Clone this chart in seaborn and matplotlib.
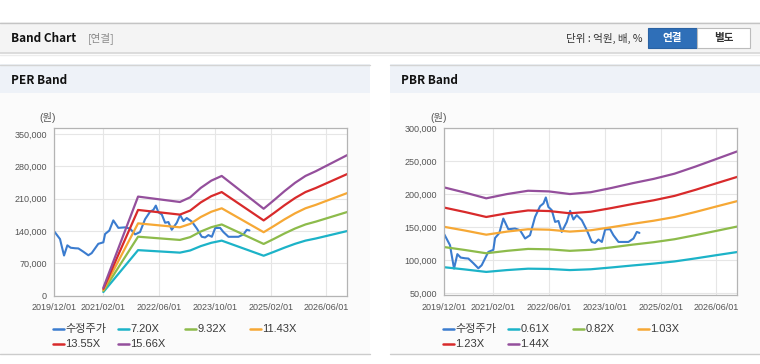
import pandas as pd
import seaborn as sns
import matplotlib.pyplot as plt
import matplotlib.dates as mdates
from matplotlib.patches import Rectangle
from matplotlib.lines import Line2D
from matplotlib.ticker import FuncFormatter

# ---- data ----
price_dates = ['2019-12-01', '2020-01-20', '2020-01-30', '2020-02-24', '2020-03-24',
               '2020-04-22', '2020-05-30', '2020-06-28', '2020-08-10', '2020-09-23',
               '2020-10-22', '2020-12-19', '2021-02-01', '2021-02-16', '2021-03-25',
               '2021-04-29', '2021-06-12', '2021-08-09', '2021-09-22', '2021-11-05',
               '2021-12-18', '2022-01-31', '2022-03-16', '2022-04-14', '2022-05-05',
               '2022-05-27', '2022-06-26', '2022-07-25', '2022-08-23', '2022-09-21',
               '2022-11-04', '2022-12-03', '2023-01-01', '2023-01-30', '2023-03-15',
               '2023-04-28', '2023-06-10', '2023-07-09', '2023-08-07', '2023-09-06',
               '2023-10-05', '2023-11-17', '2023-12-16', '2024-01-29', '2024-04-25',
               '2024-06-08', '2024-07-07', '2024-07-30']
price_values = [139000, 122500, 112000, 87000, 109000,
                103800, 102700, 102300, 95300, 87500,
                92100, 112300, 115500, 133500, 141000,
                163000, 146800, 147900, 145300, 132700,
                137700, 165500, 181800, 185900, 195000,
                180700, 175700, 157900, 159400, 142700,
                157900, 174600, 161600, 168100, 160500,
                145300, 127500, 126000, 131200, 127500,
                146400, 146800, 137700, 127500, 127500,
                132700, 142700, 141200]

per_dates = ['2021-02-01', '2021-12-01', '2022-12-01', '2023-03-01', '2023-06-01',
             '2023-09-01', '2023-12-01', '2024-12-01', '2025-03-01', '2025-06-01',
             '2025-09-01', '2025-12-01', '2026-03-01', '2026-06-01', '2026-12-01']
per_labels = ['7.20X', '9.32X', '11.43X', '13.55X', '15.66X']
per_720 = [7900, 98600, 93200, 97900, 107300, 114500, 119200, 86500, 95000, 104000,
           112300, 119200, 123800, 129200, 140000]
per_932 = [10300, 127700, 120700, 126800, 138900, 148200, 154200, 112000, 123000, 134700,
           145400, 154200, 160300, 167300, 181200]
per_1143 = [12600, 156600, 148000, 155400, 170300, 181700, 189200, 137400, 150900, 165200,
            178300, 189200, 196600, 205200, 222200]
per_1355 = [14900, 185600, 175500, 184300, 201900, 215400, 224300, 162900, 178900, 195800,
            211400, 224300, 233100, 243200, 263400]
per_1566 = [17200, 214500, 202800, 213000, 233300, 249000, 259200, 188200, 206700, 226300,
            244300, 259200, 269400, 281100, 304400]

pbr_dates = ['2019-12-01', '2020-06-01', '2020-12-01', '2021-06-01', '2021-12-01',
             '2022-06-01', '2022-12-01', '2023-06-01', '2023-12-01', '2024-06-01',
             '2024-12-01', '2025-06-01', '2025-12-01', '2026-06-01', '2026-12-01']
pbr_labels = ['0.61X', '0.82X', '1.03X', '1.23X', '1.44X']
pbr_061 = [89100, 85700, 82000, 84800, 86900, 86500, 84800, 86000, 88800, 91800,
           94600, 97900, 102500, 107400, 112200]
pbr_082 = [119700, 115200, 110300, 114000, 116900, 116300, 114000, 115600, 119300, 123400,
           127100, 131600, 137800, 144300, 150900]
pbr_103 = [150400, 144700, 138500, 143200, 146800, 146100, 143200, 145200, 149900, 155000,
           159700, 165300, 173000, 181300, 189500]
pbr_123 = [179600, 172800, 165400, 171000, 175300, 174400, 171000, 173400, 179000, 185100,
           190700, 197400, 206600, 216500, 226300]
pbr_144 = [210200, 202300, 193700, 200200, 205200, 204200, 200200, 203000, 209500, 216700,
           223200, 231100, 241900, 253400, 265000]

x_ticks = ['2019-12-01', '2021-02-01', '2022-06-01', '2023-10-01', '2025-02-01', '2026-06-01']
per_yticks = [0, 70000, 140000, 210000, 280000, 350000]
pbr_yticks = [50000, 100000, 150000, 200000, 250000, 300000]

price_label = '수정주가'
colors = ['#3b7ccf', '#1cb3c8', '#8dbb4b', '#f6a835', '#d82a2b', '#944f9c']

W, H = 760, 364


def fx(x):
    return x / W


def fy(y):
    return 1 - y / H


def box(fig, x0, y0, x1, y1, color, z=0):
    fig.add_artist(Rectangle((fx(x0), fy(y1)), (x1 - x0) / W, (y1 - y0) / H,
                             transform=fig.transFigure, facecolor=color,
                             edgecolor='none', zorder=z))


def hline(fig, x0, x1, y, color, lw=1.0, z=1):
    fig.add_artist(Line2D([fx(x0), fx(x1)], [fy(y), fy(y)], transform=fig.transFigure,
                          color=color, lw=lw, zorder=z))


def panel(fig, x0, x1, title):
    box(fig, x0, 64, x1, 354, '#fbfbfb')
    box(fig, x0, 64, x1, 93, '#eef2f8')
    hline(fig, x0, x1, 64.5, '#d4d4d4')
    hline(fig, x0, x1, 354, '#cccccc')
    fig.text(fx(x0 + 11), fy(80), title, fontsize=8.5, fontweight='bold',
             family=['Noto Sans CJK KR'], color='#111111', va='center', ha='left')


def draw_band(ax, dates, values_list, ylim, yticks):
    d = pd.to_datetime(price_dates)
    sns.lineplot(x=d, y=price_values, ax=ax, color=colors[0], linewidth=1.5, legend=False)
    bd = pd.to_datetime(dates)
    for vals, c in zip(values_list, colors[1:]):
        sns.lineplot(x=bd, y=vals, ax=ax, color=c, linewidth=1.6, legend=False)
    ax.set_xlim(pd.Timestamp('2019-12-01'), pd.Timestamp('2026-12-01'))
    ax.set_ylim(*ylim)
    ax.set_xticks(pd.to_datetime(x_ticks))
    ax.xaxis.set_major_formatter(mdates.DateFormatter('%Y/%m/%d'))
    ax.set_yticks(yticks)
    ax.yaxis.set_major_formatter(FuncFormatter(lambda v, p: f'{int(v):,}'))
    ax.set_xlabel('')
    ax.set_ylabel('')
    ax.set_facecolor('white')
    ax.grid(True, color='#e6e6e6', linewidth=0.8)
    ax.set_axisbelow(True)
    for s in ax.spines.values():
        s.set_color('#b4b4b4')
        s.set_linewidth(0.9)
    ax.tick_params(axis='both', length=3, width=0.8, color='#b4b4b4',
                   labelsize=6.5, labelcolor='#555555', pad=2.5)


def legend(fig, x_cols, labels):
    items = [price_label] + labels
    rows = [329, 344]
    for i, (lab, c) in enumerate(zip(items, colors)):
        r, col = divmod(i, 4)
        x = x_cols[col]
        y = rows[r]
        fig.add_artist(Line2D([fx(x), fx(x + 10.5)], [fy(y), fy(y)],
                              transform=fig.transFigure, color=c, lw=1.8))
        fig.text(fx(x + 12.5), fy(y), lab, fontsize=8, color='#3a3a3a',
                 va='center', ha='left')


sns.set_style('white')
plt.rcParams['font.family'] = ['Liberation Sans', 'Noto Sans CJK KR', 'DejaVu Sans']

fig = plt.figure(figsize=(W / 100, H / 100), dpi=100)
fig.patch.set_facecolor('white')

# top header bar
box(fig, 0, 22, 760, 53, '#f4f4f4')
hline(fig, 0, 760, 22.5, '#c4c4c4')
hline(fig, 0, 760, 53, '#d6d6d6', lw=1.2)
hline(fig, 0, 760, 54.5, '#ececec', lw=1.0)
fig.text(fx(11), fy(38.5), 'Band Chart', fontsize=8.5, fontweight='bold',
         family=['Noto Sans CJK KR'], color='#111111', va='center')
fig.text(fx(88), fy(38.5), '[연결]', fontsize=7.6, family=['Noto Sans CJK KR'],
         color='#8a8a8a', va='center')
fig.text(fx(642), fy(38.5), '단위 : 억원, 배, %', fontsize=7.6, family=['Noto Sans CJK KR'],
         color='#333333', va='center', ha='right')
fig.add_artist(Rectangle((fx(648), fy(47.5)), 49 / W, 19 / H, transform=fig.transFigure,
                         facecolor='#2f6fb8', edgecolor='#2a62a3', lw=0.8, zorder=2))
fig.add_artist(Rectangle((fx(697), fy(47.5)), 53 / W, 19 / H, transform=fig.transFigure,
                         facecolor='#ffffff', edgecolor='#bcbcbc', lw=0.8, zorder=2))
fig.text(fx(672.5), fy(38.5), '연결', fontsize=7.6, fontweight='bold',
         family=['Noto Sans CJK KR'], color='white', va='center', ha='center', zorder=3)
fig.text(fx(723.5), fy(38.5), '별도', fontsize=7.6, fontweight='bold',
         family=['Noto Sans CJK KR'], color='#333333', va='center', ha='center', zorder=3)

panel(fig, 0, 370, 'PER Band')
panel(fig, 390, 760, 'PBR Band')

ax1 = fig.add_axes([fx(54.3), fy(295.7), 293 / W, 167.4 / H])
draw_band(ax1, per_dates, [per_720, per_932, per_1143, per_1355, per_1566],
          (0, 362300), per_yticks)
ax2 = fig.add_axes([fx(444.3), fy(295.3), 293 / W, 167.0 / H])
draw_band(ax2, pbr_dates, [pbr_061, pbr_082, pbr_103, pbr_123, pbr_144],
          (46500, 300000), pbr_yticks)

fig.text(fx(48), fy(118), '(원)', fontsize=7.4, color='#555555', ha='center', va='center')
fig.text(fx(439), fy(118), '(원)', fontsize=7.4, color='#555555', ha='center', va='center')

legend(fig, [53, 118, 185, 250], per_labels)
legend(fig, [443, 508, 573, 638], pbr_labels)

fig.savefig('out.png', dpi=100)
